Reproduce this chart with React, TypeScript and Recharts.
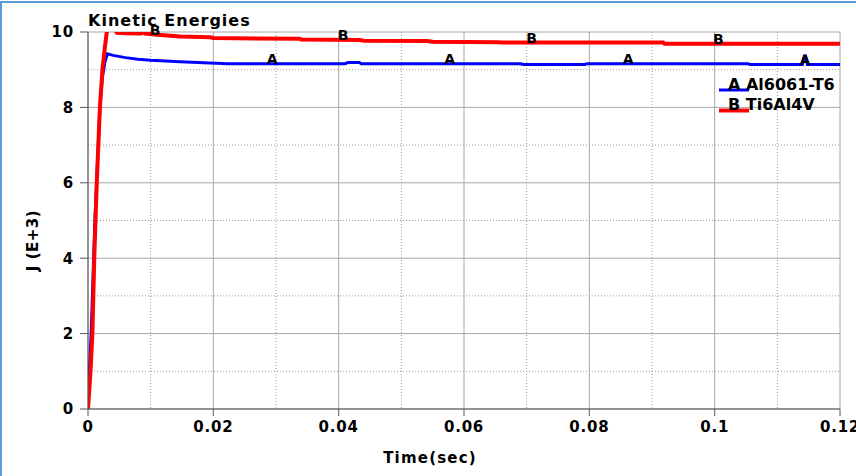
import { ComposedChart, Line, XAxis, YAxis, CartesianGrid, Legend, Label } from "recharts"

const FONT = "'DejaVu Sans', Verdana, sans-serif"

// energy curves, J (E+3) vs time (sec)
const timeA = [0, 0.0002, 0.0005, 0.0008, 0.0011, 0.0015, 0.0019, 0.0023, 0.0027, 0.0031, 0.004, 0.006, 0.008, 0.01, 0.0147, 0.0223, 0.041, 0.0415, 0.0433, 0.0436, 0.069, 0.0695, 0.0793, 0.0796, 0.1053, 0.1056, 0.114, 0.1144, 0.1148, 0.12]
const energyA = [0, 1, 2, 3.5, 5, 6.5, 8, 8.8, 9.2, 9.42, 9.38, 9.32, 9.28, 9.25, 9.21, 9.16, 9.16, 9.19, 9.19, 9.16, 9.16, 9.14, 9.14, 9.16, 9.16, 9.14, 9.14, 9.4, 9.14, 9.14]
const timeB = [0, 0.0004, 0.0007, 0.001, 0.0014, 0.0019, 0.0023, 0.0027, 0.003, 0.0035, 0.0042, 0.0046, 0.006, 0.0085, 0.0088, 0.0091, 0.011, 0.0147, 0.0195, 0.02, 0.0338, 0.034, 0.0434, 0.044, 0.054, 0.055, 0.0657, 0.066, 0.0918, 0.092, 0.12]
const energyB = [0, 1, 2, 4, 6, 8, 9, 9.6, 10, 10.2, 10.1, 9.98, 9.97, 9.96, 10, 9.96, 9.93, 9.88, 9.86, 9.84, 9.82, 9.8, 9.79, 9.77, 9.76, 9.74, 9.73, 9.72, 9.72, 9.69, 9.69]

// curve letter marks
const markTimeA = [0.0294, 0.0577, 0.0862, 0.1144]
const markValueA = [9.16, 9.16, 9.16, 9.14]
const markTimeB = [0.0107, 0.0407, 0.0708, 0.1006]
const markValueB = [9.93, 9.79, 9.72, 9.69]

const xTicks = [0, 0.02, 0.04, 0.06, 0.08, 0.1, 0.12]
const xMinor = [0.01, 0.03, 0.05, 0.07, 0.09, 0.11]
const yTicks = [0, 2, 4, 6, 8, 10]
const yMinor = [1, 3, 5, 7, 9]

const seriesA = timeA.map((t, i) => ({ t, v: energyA[i] }))
const seriesB = timeB.map((t, i) => ({ t, v: energyB[i] }))
const marksA = markTimeA.map((t, i) => ({ t, v: markValueA[i] }))
const marksB = markTimeB.map((t, i) => ({ t, v: markValueB[i] }))

const legendRows = [
  { letter: "A", name: "Al6061-T6", color: "#0000ff", width: 3 },
  { letter: "B", name: "Ti6Al4V", color: "#ff0000", width: 4 },
]

const tickStyle = { fontSize: 15, fontWeight: "bold", fill: "#000", fontFamily: FONT, letterSpacing: 0.8 }

function letterLabel(letter: string) {
  return (props: any) => (
    <text key={props.index} x={props.x} y={props.y + 0.5} textAnchor="middle" fontSize={14} fontWeight="bold" fontFamily={FONT} fill="#000">
      {letter}
    </text>
  )
}

function renderLegend() {
  return (
    <svg width={140} height={46}>
      {legendRows.map((r, i) => (
        <g key={r.letter}>
          <line x1={3} x2={33} y1={18 + i * 20.5} y2={18 + i * 20.5} stroke={r.color} strokeWidth={r.width} />
          <text x={12} y={18 + i * 20} fontSize={16} fontWeight="bold" fontFamily={FONT} fill="#000">
            {r.letter} {r.name}
          </text>
        </g>
      ))}
    </svg>
  )
}

function YTitle({ viewBox }: any) {
  const cx = viewBox.x + 5
  const cy = viewBox.y + viewBox.height / 2 + 20
  return (
    <text x={cx} y={cy} transform={`rotate(-90 ${cx} ${cy})`} textAnchor="middle" dominantBaseline="central"
      fontSize={15} fontWeight="bold" fontFamily={FONT} fill="#000" letterSpacing={0.5}>
      J (E+3)
    </text>
  )
}

function XTitle({ viewBox }: any) {
  const cx = viewBox.x + viewBox.width / 2 - 34
  const cy = viewBox.y + viewBox.height + 24
  return (
    <text x={cx} y={cy} textAnchor="middle" fontSize={15} fontWeight="bold" fontFamily={FONT} fill="#000" letterSpacing={1.2}>
      Time(sec)
    </text>
  )
}

export default function App() {
  return (
    <div style={{ position: "absolute", left: 0, top: 0, width: 856, height: 476, background: "#fff", overflow: "hidden" }}>
      <ComposedChart width={856} height={476} margin={{ top: 32, right: 16, bottom: 37, left: 28 }}>
        <CartesianGrid verticalValues={xMinor} horizontalValues={yMinor} stroke="#9a9a9a" strokeDasharray="1 2" />
        <CartesianGrid verticalValues={xTicks} horizontalValues={yTicks} stroke="#a8a8a8" />
        <XAxis dataKey="t" type="number" domain={[0, 0.12]} ticks={xTicks} interval={0} allowDataOverflow
          height={30} tickSize={7} tickMargin={5} tick={tickStyle} stroke="#555">
          <Label content={XTitle} />
        </XAxis>
        <YAxis type="number" domain={[0, 10]} ticks={yTicks} interval={0} allowDataOverflow
          width={60} tickSize={8} tickMargin={6} tick={tickStyle} stroke="#555">
          <Label content={YTitle} />
        </YAxis>
        <Legend content={renderLegend} layout="horizontal" verticalAlign="middle" align="center"
          wrapperStyle={{ position: "absolute", left: 716, top: 72, width: 140 }} />
        <Line data={seriesA} dataKey="v" name="Al6061-T6" type="linear" stroke="#0000ff" strokeWidth={3} dot={false} isAnimationActive={false} />
        <Line data={seriesB} dataKey="v" name="Ti6Al4V" type="linear" stroke="#ff0000" strokeWidth={4} dot={false} isAnimationActive={false} />
        <Line data={marksA} dataKey="v" stroke="none" dot={false} label={letterLabel("A")} legendType="none" isAnimationActive={false} />
        <Line data={marksB} dataKey="v" stroke="none" dot={false} label={letterLabel("B")} legendType="none" isAnimationActive={false} />
      </ComposedChart>
      <div style={{ position: "absolute", left: 88, top: 11, fontFamily: FONT, fontSize: 16, fontWeight: "bold", lineHeight: "20px", letterSpacing: 1, color: "#000" }}>
        Kinetic Energies
      </div>
      <div style={{ position: "absolute", left: 0, top: 1, width: 870, height: 473, borderLeft: "2px solid #5b9bd5", borderTop: "2px solid #5b9bd5", borderBottom: "2px solid #5b9bd5", pointerEvents: "none" }} />
    </div>
  )
}
